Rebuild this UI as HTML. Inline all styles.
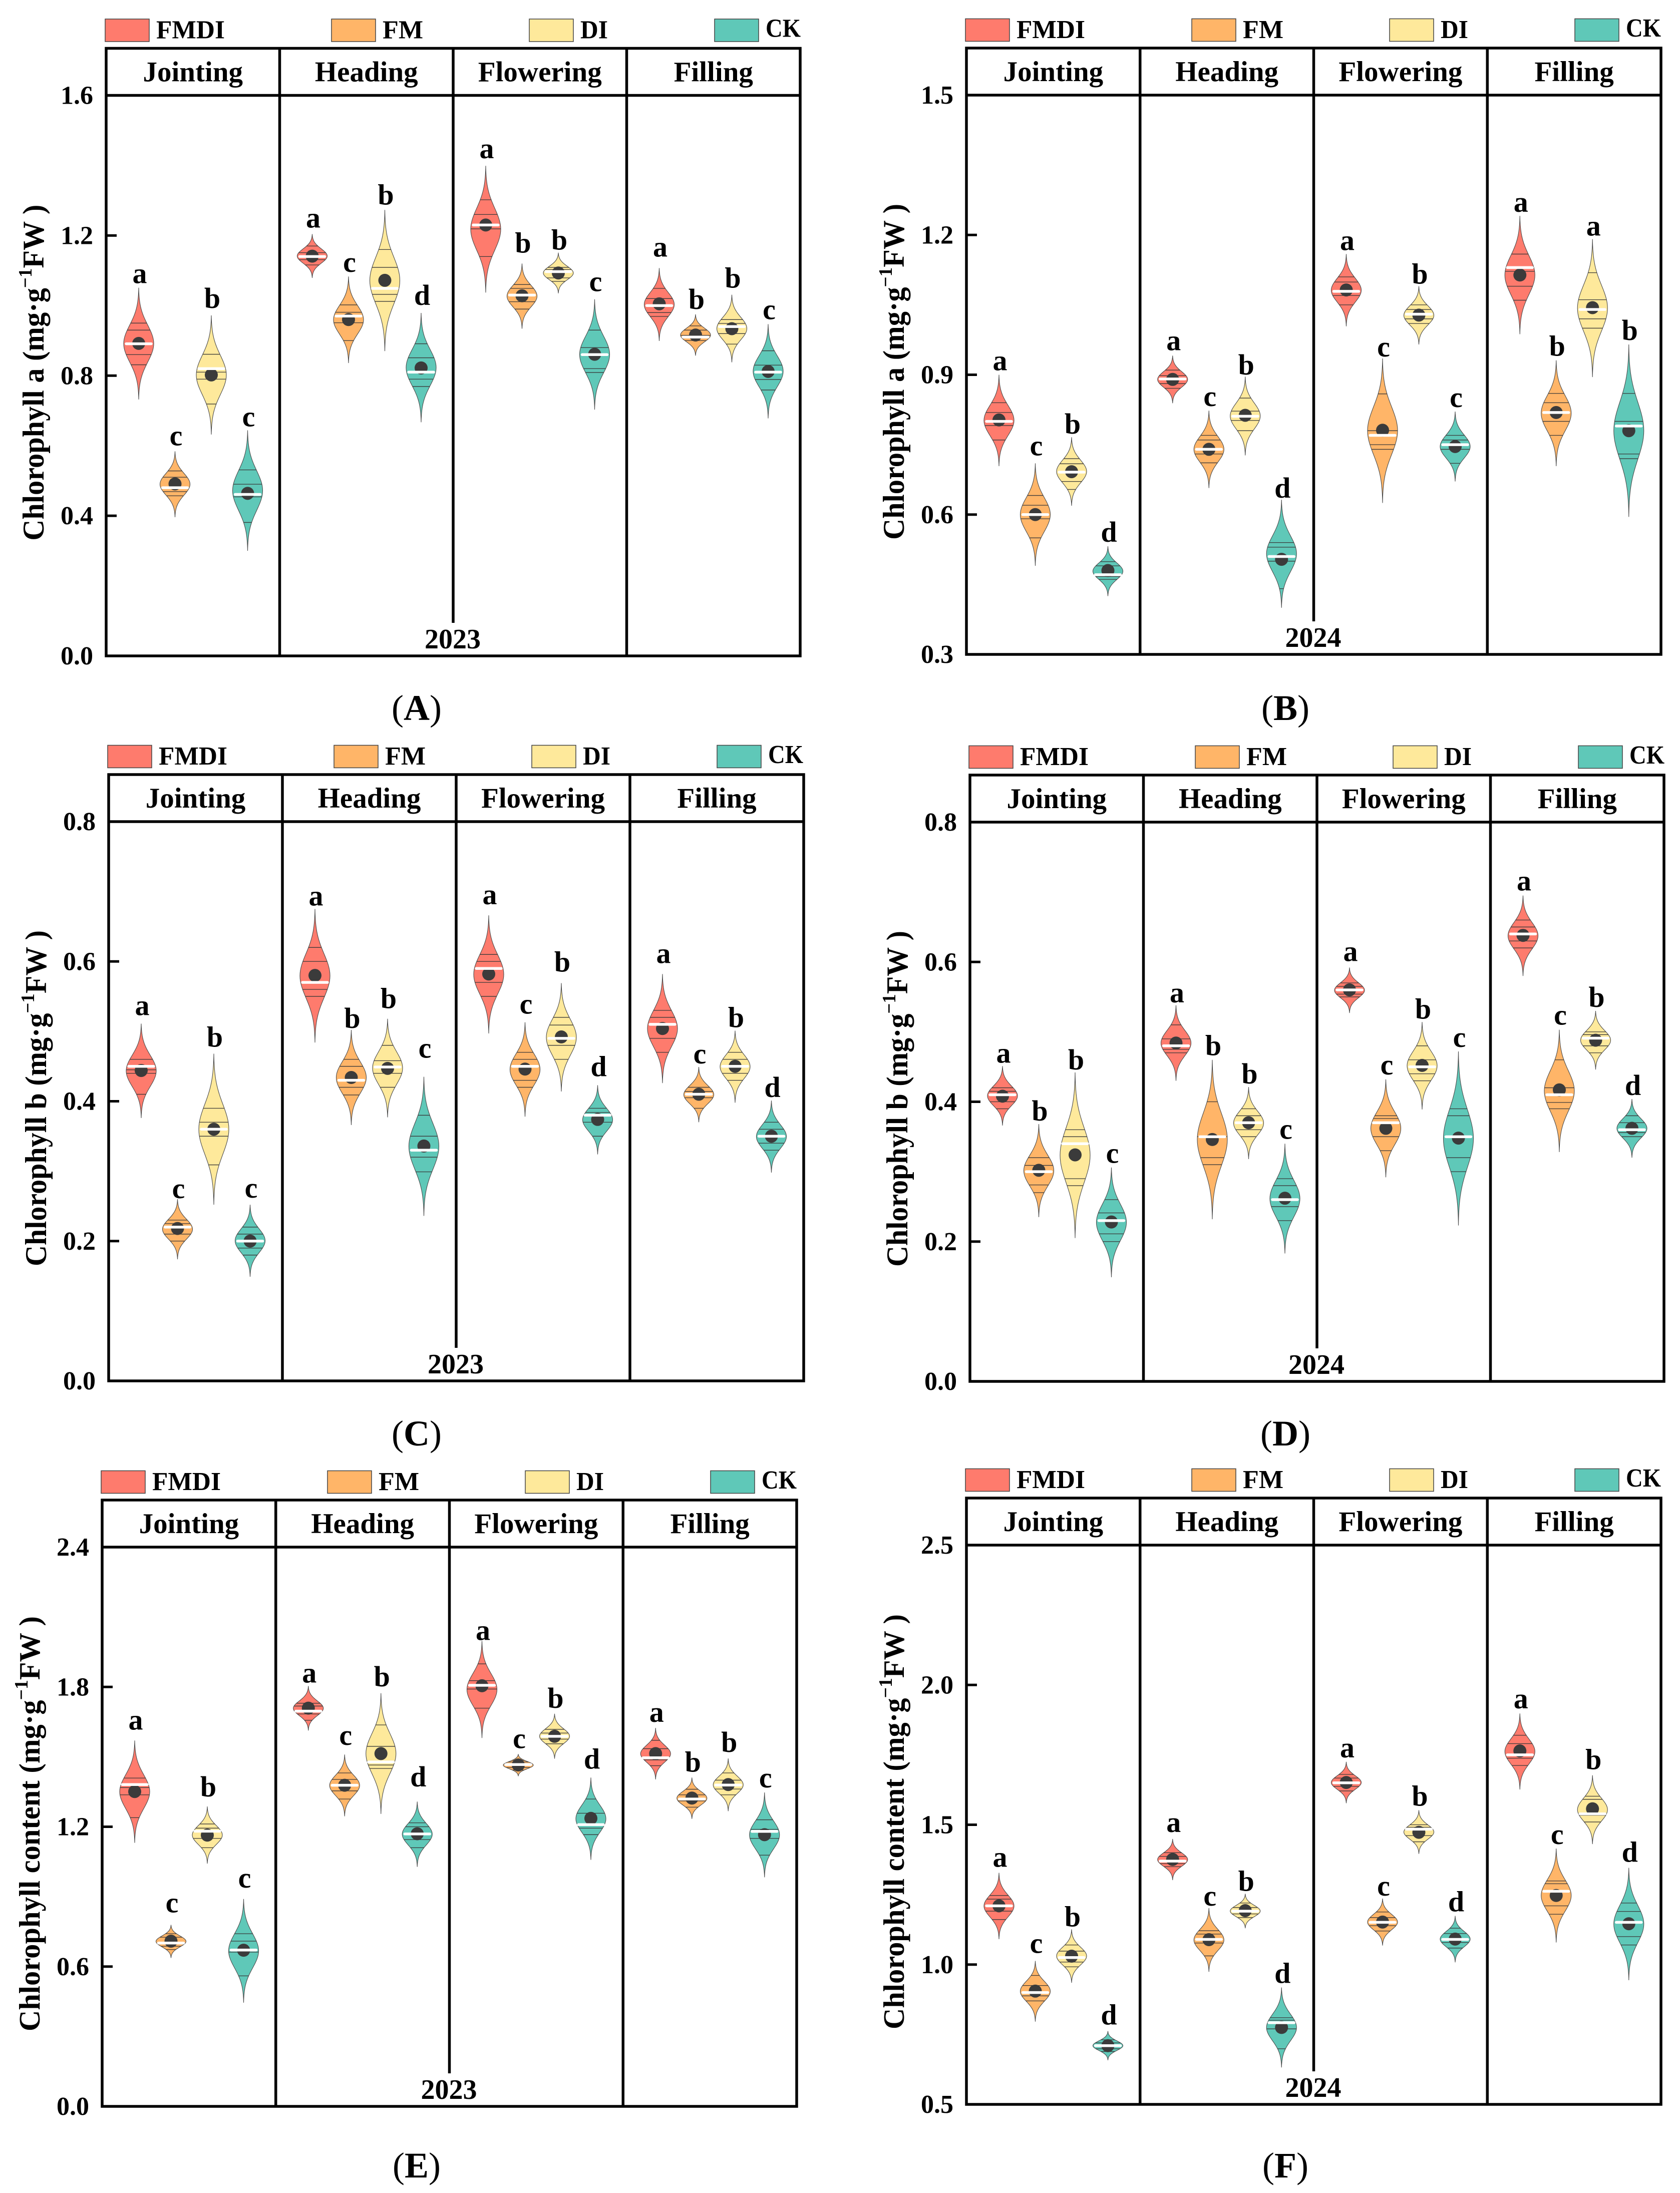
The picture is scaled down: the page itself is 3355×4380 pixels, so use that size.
<!DOCTYPE html>
<html lang="en">
<head>
<meta charset="utf-8">
<title>Chlorophyll violin charts</title>
<style>
html,body{margin:0;padding:0;background:#fff;}
svg{display:block;}
text{font-family:"Liberation Serif","Times New Roman",serif;font-weight:bold;fill:#000;}
</style>
</head>
<body>
<svg id="chart" xmlns="http://www.w3.org/2000/svg" width="3355" height="4380" viewBox="0 0 3355 4380"></svg>
<script>
// Shared categories
const stages = ["Jointing","Heading","Flowering","Filling"];
const treatments = ["FMDI","FM","DI","CK"];

// Panel A, 2023 chlorophyll a. Each group of 4 = FMDI, FM, DI, CK; groups = stages.
const aTop = [1.051,.584,.972,.644, 1.204,1.083,1.273,.979, 1.399,1.120,1.151,1.018, 1.107,.975,1.031,.947];
const aBottom = [.732,.396,.632,.300, 1.079,.836,.870,.667, 1.037,.934,1.035,.703, .899,.857,.838,.678];
const aMean = [.892,.491,.802,.464, 1.141,.960,1.072,.822, 1.230,1.028,1.093,.861, 1.005,.916,.934,.812];
const aMedian = [.891,.480,.820,.461, 1.140,.970,1.049,.810, 1.230,1.030,1.097,.860, 1.000,.910,.940,.810];
const aPoints = [[.950,.930,.860,.831],[.528,.510,.469,.457],[.861,.790,.719,.810],[.531,.490,.381,.454],
[1.170,1.151,1.131,1.116],[1.002,.981,.951,.900],[1.160,1.109,1.032,1.012],[.891,.851,.790,.769],
[1.302,1.260,1.219,1.140],[1.060,1.049,1.011,.990],[1.109,1.079,1.069,1.103],[.930,.880,.820,.809],
[1.049,1.020,.980,.969],[.942,.930,.900,.915],[.960,.920,.890,.949],[.871,.830,.789,.759]];
const aLetters = ["a","c","b","c","a","c","b","d","a","b","b","c","a","b","b","c"];
const aTicks = [0,.4,.8,1.2,1.6];

// Panel B, 2024 chlorophyll a
const bTop = [.900,.710,.766,.532, .941,.823,.896,.632, 1.159,.935,1.090,.821, 1.241,.931,1.191,.965];
const bBottom = [.704,.490,.619,.425, .839,.657,.727,.400, 1.004,.625,.965,.671, .987,.704,.895,.595];
const bMean = [.803,.600,.692,.480, .890,.740,.813,.504, 1.082,.781,1.028,.746, 1.114,.819,1.044,.780];
const bMedian = [.800,.600,.691,.471, .891,.740,.811,.510, 1.079,.770,1.030,.750, 1.130,.819,1.040,.790];
const bPoints = [[.840,.819,.791,.760],[.641,.620,.591,.550],[.720,.709,.671,.654],[.499,.490,.467,.461],
[.910,.898,.881,.871],[.770,.760,.730,.711],[.850,.822,.802,.780],[.540,.530,.500,.441],
[1.110,1.099,1.070,1.050],[.859,.780,.750,.740],[1.050,1.040,1.020,1.010],[.770,.760,.740,.710],
[1.159,1.090,1.060,1.122],[.860,.840,.800,.770],[1.119,1.020,1.000,1.061],[.860,.800,.730,.720]];
const bLetters = ["a","c","b","d","a","c","b","d","a","c","b","c","a","b","a","b"];
const bTicks = [.3,.6,.9,1.2,1.5];

// Panel C, 2023 chlorophyll b
const cTop = [.511,.260,.468,.252, .675,.502,.518,.435, .666,.513,.569,.423, .582,.449,.501,.401];
const cBottom = [.376,.174,.252,.149, .484,.366,.377,.236, .497,.378,.414,.324, .426,.370,.398,.298];
const cMean = [.444,.218,.360,.200, .580,.434,.447,.336, .582,.446,.492,.374, .504,.410,.450,.350];
const cMedian = [.450,.220,.360,.200, .570,.430,.449,.330, .590,.450,.490,.380, .510,.410,.450,.350];
const cPoints = [[.460,.440,.410,.445],[.230,.210,.200,.225],[.390,.350,.309,.370],[.220,.210,.190,.180],
[.620,.600,.560,.550],[.460,.450,.420,.409],[.480,.440,.420,.458],[.380,.350,.320,.299],
[.610,.570,.550,.600],[.470,.460,.430,.420],[.520,.509,.480,.460],[.390,.370,.350,.384],
[.530,.520,.490,.470],[.420,.414,.405,.390],[.470,.460,.440,.430],[.370,.360,.340,.330]];
const cLetters = ["a","c","b","c","a","b","b","c","a","c","b","d","a","c","b","d"];
const cTicks = [0,.2,.4,.6,.8];

// Panel D, 2024 chlorophyll b
const dTop = [.451,.368,.442,.306, .538,.460,.421,.340, .592,.432,.514,.472, .695,.503,.530,.404];
const dBottom = [.366,.235,.205,.149, .430,.232,.318,.183, .527,.292,.389,.223, .580,.328,.446,.320];
const dMean = [.408,.302,.324,.228, .484,.346,.370,.262, .560,.362,.452,.348, .638,.417,.488,.362];
const dMedian = [.410,.300,.340,.230, .480,.350,.370,.260, .560,.370,.450,.350, .640,.410,.491,.360];
const dPoints = [[.420,.400,.390,.415],[.320,.309,.281,.270],[.360,.350,.290,.280],[.260,.241,.211,.200],
[.510,.490,.470,.475],[.400,.350,.320,.310],[.390,.380,.360,.350],[.290,.280,.250,.230],
[.570,.565,.550,.554],[.380,.350,.330,.376],[.480,.460,.440,.430],[.390,.380,.320,.300],
[.660,.650,.630,.620],[.460,.420,.399,.390],[.500,.480,.470,.496],[.380,.370,.350,.356]];
const dLetters = ["a","b","b","c","a","b","b","c","a","c","b","c","a","c","b","d"];
const dTicks = [0,.2,.4,.6,.8];

// Panel E, 2023 chlorophyll content
const eTop = [1.570,.779,1.287,.890, 1.804,1.510,1.773,1.308, 1.997,1.512,1.685,1.411, 1.624,1.411,1.493,1.347];
const eBottom = [1.131,.637,1.042,.445, 1.613,1.245,1.255,1.028, 1.581,1.417,1.492,1.058, 1.403,1.234,1.267,.983];
const eMean = [1.351,.709,1.164,.670, 1.709,1.378,1.514,1.170, 1.805,1.465,1.588,1.236, 1.514,1.323,1.381,1.166];
const eMedian = [1.381,.701,1.181,.671, 1.696,1.378,1.478,1.169, 1.807,1.467,1.588,1.209, 1.496,1.319,1.379,1.180];
const ePoints = [[1.409,1.337,1.239,1.368],[.741,.726,.687,.673],[1.194,1.150,1.110,1.212],[.741,.709,.662,.560],
[1.730,1.684,1.657,1.718],[1.431,1.403,1.354,1.319],[1.637,1.545,1.465,1.450],[1.217,1.200,1.145,1.110],
[1.899,1.827,1.791,1.709],[1.485,1.478,1.454,1.443],[1.618,1.602,1.576,1.556],[1.319,1.258,1.194,1.166],
[1.571,1.535,1.487,1.462],[1.361,1.337,1.311,1.284],[1.431,1.400,1.362,1.337],[1.230,1.150,1.078,1.189]];
const eLetters = ["a","c","b","c","a","c","b","d","a","c","b","d","a","b","b","c"];
const eTicks = [0,.6,1.2,1.8,2.4];

// Panel F, 2024 chlorophyll content
const fTop = [1.328,1.013,1.126,.762, 1.449,1.202,1.253,.918, 1.725,1.236,1.552,1.174, 1.898,1.415,1.677,1.346];
const fBottom = [1.091,.796,.935,.658, 1.302,.974,1.130,.632, 1.577,1.068,1.396,1.008, 1.626,1.079,1.431,.944];
const fMean = [1.210,.905,1.030,.710, 1.376,1.089,1.193,.775, 1.651,1.152,1.473,1.091, 1.764,1.247,1.557,1.146];
const fMedian = [1.210,.900,1.025,.710, 1.370,1.090,1.191,.792, 1.650,1.151,1.484,1.090, 1.750,1.262,1.539,1.151];
const fPoints = [[1.247,1.234,1.191,1.161],[.961,.925,.888,.870],[1.070,1.048,1.009,.992],[.731,.720,.699,.689],
[1.400,1.387,1.361,1.350],[1.121,1.109,1.077,1.031],[1.220,1.204,1.181,1.168],[.810,.770,.699,.801],
[1.680,1.667,1.637,1.621],[1.188,1.168,1.139,1.120],[1.500,1.491,1.461,1.439],[1.130,1.111,1.079,1.059],
[1.820,1.790,1.738,1.712],[1.299,1.289,1.210,1.180],[1.602,1.591,1.534,1.510],[1.220,1.190,1.100,1.070]];
const fLetters = ["a","c","b","d","a","c","b","d","a","c","b","d","a","c","b","d"];
const fTicks = [.5,1.0,1.5,2.0,2.5];

// Series bundles by panel
const panels = [
 {id:"a",cap:"(A)",year:"2023",label:"Chlorophyll a",top:aTop,bottom:aBottom,mean:aMean,median:aMedian,points:aPoints,letters:aLetters,ticks:aTicks,frame:[212,1598,96.5,190.5,1310],capX:832,capDy:128,
  gaps:[9,12,15,8,13,9,11,16,15,22,6,16,23,11,14,10]},
 {id:"b",cap:"(B)",year:"2024",label:"Chlorophyll a",top:bTop,bottom:bBottom,mean:bMean,median:bMedian,points:bPoints,letters:bLetters,ticks:bTicks,frame:[1930,3317,96,190,1307],capX:2567,capDy:131,
  gaps:[9,16,7,9,11,9,4,4,8,4,5,9,8,9,7,9]},
 {id:"c",cap:"(C)",year:"2023",label:"Chlorophyll b",top:cTop,bottom:cBottom,mean:cMean,median:cMedian,points:cPoints,letters:cLetters,ticks:cTicks,frame:[217,1605,1547,1641,2758],capX:832,capDy:129,
  gaps:[17,2,14,14,7,4,21,38,22,17,23,18,22,7,7,7]},
 {id:"d",cap:"(D)",year:"2024",label:"Chlorophyll b",top:dTop,bottom:dBottom,mean:dMean,median:dMedian,points:dPoints,letters:dLetters,ticks:dTicks,frame:[1937,3323,1548,1642,2759],capX:2567,capDy:128,
  gaps:[7,7,6,9,6,9,7,10,13,10,7,9,10,10,8,8]},
 {id:"e",cap:"(E)",year:"2023",label:"Chlorophyll content",top:eTop,bottom:eBottom,mean:eMean,median:eMedian,points:ePoints,letters:eLetters,ticks:eTicks,frame:[204,1591,2996,3090,4207],capX:832,capDy:142,
  gaps:[22,25,20,23,7,19,14,30,2,12,12,18,12,12,13,10]},
 {id:"f",cap:"(F)",year:"2024",label:"Chlorophyll content",top:fTop,bottom:fBottom,mean:fMean,median:fMedian,points:fPoints,letters:fLetters,ticks:fTicks,frame:[1930,3317,2992,3086,4203],capX:2567,capDy:146,
  gaps:[12,16,6,13,14,5,6,9,9,6,9,9,10,9,12,12]}
];

const colors = ["#FE7B6D","#FFB568","#FEE99B","#5FC8B8"];
const slotX = [65,137.5,210,282.5];
const legendX = [-2,450,845,1215];
const legendWidths = [137,81,55,70];
const svgNS = "http://www.w3.org/2000/svg";
const root = document.getElementById("chart");

function el(tag, attrs, parent){
  const e = document.createElementNS(svgNS, tag);
  for(const k in attrs){ e.setAttribute(k, attrs[k]); }
  parent.appendChild(e);
  return e;
}
function txt(str, attrs, parent){
  const e = el("text", attrs, parent);
  e.textContent = str;
  return e;
}
const SIG = 0.33;
function shape(t){
  const base = Math.exp(-1/(2*SIG*SIG));
  return (Math.exp(-t*t/(2*SIG*SIG)) - base)/(1-base);
}
const HALF = 30;

panels.forEach(function(p){
  const L=p.frame[0],R=p.frame[1],T=p.frame[2],H=p.frame[3],B=p.frame[4];
  const vMin=p.ticks[0], vMax=p.ticks[p.ticks.length-1];
  const yScale=function(v){ return B-(v-vMin)/(vMax-vMin)*(B-H); };
  const colW=(R-L)/4;
  const g=el("g",{},root);
  
  

  // legend
  treatments.forEach(function(name,i){
    const lg=el("g",{},g);
    
    
    const x=L+legendX[i];
    const sw=el("rect",{x:x,y:T-58.5,width:88,height:45,fill:colors[i],stroke:"#444","stroke-width":1.5},lg);
    
    
    const lt=txt(name,{x:x+102,y:(i===3?T-23:T-20),"font-size":52,textLength:legendWidths[i],lengthAdjust:"spacingAndGlyphs"},lg);
    
    
  });

  // violins
  const plot=el("g",{},g);
  
  
  p.top.forEach(function(hi,idx){
    const col=Math.floor(idx/4), tr=idx%4;
    const cx=L+col*colW+slotX[tr];
    const lo=p.bottom[idx];
    const yHi=yScale(hi), yLo=yScale(lo);
    const yMid=(yHi+yLo)/2, half=(yLo-yHi)/2;
    const vg=el("g",{},plot);
    
    
    let left="", right="";
    const N=48;
    for(let i=0;i<=N;i++){
      const t=-1+2*i/N;
      const w=HALF*shape(t);
      right+=(i?"L":"M")+(cx+w).toFixed(2)+" "+(yMid+t*half).toFixed(2);
      left="L"+(cx-w).toFixed(2)+" "+(yMid+t*half).toFixed(2)+left;
    }
    const body=el("path",{d:right+left+"Z",fill:colors[tr],stroke:"#4a4a4a","stroke-width":1.1},vg);
    
    
    p.points[idx].forEach(function(v){
      const y=yScale(v);
      const w=HALF*shape(Math.max(-1,Math.min(1,(y-yMid)/half)));
      const ln=el("line",{x1:cx-w,x2:cx+w,y1:y,y2:y,stroke:"#3a3a3a","stroke-width":1.3},vg);
      
      
    });
    const dot=el("circle",{cx:cx,cy:yScale(p.mean[idx]),r:13,fill:"#3b3b3b"},vg);
    
    
    const yM=yScale(p.median[idx]);
    const med=el("line",{x1:cx-25,x2:cx+25,y1:yM,y2:yM,stroke:"#fff","stroke-width":5.5,"stroke-linecap":"round"},vg);
    
    
    const lt=txt(p.letters[idx],{x:cx+2,y:yHi-p.gaps[idx],"font-size":58,"text-anchor":"middle"},vg);
    
    
  });

  // frame
  const frame=el("g",{stroke:"#000","stroke-width":5.5,fill:"none"},g);
  
  
  el("rect",{x:L,y:T,width:R-L,height:B-T},frame);
  el("line",{x1:L,x2:R,y1:H,y2:H},frame);
  [1,2,3].forEach(function(k){
    const xx=L+k*colW;
    el("line",{x1:xx,x2:xx,y1:T,y2:(k===2?B-66:B)},frame);
  });

  // headers
  stages.forEach(function(s,k){
    const h=txt(s,{x:L+(k+.5)*colW,y:H-28,"font-size":57,"text-anchor":"middle"},g);
    
    
  });

  // y axis
  p.ticks.forEach(function(v,i){
    const y=yScale(v);
    if(i>0 && i<p.ticks.length-1){
      const tk=el("line",{x1:L,x2:L+21,y1:y,y2:y,stroke:"#000","stroke-width":5},g);
      
      
    }
    const tl=txt(v.toFixed(1),{x:L-26,y:y+17,"font-size":52,"text-anchor":"end"},g);
    
    
  });

  // y title
  const yx=L-125, yy=(T+B)/2+41;
  const long=p.label==="Chlorophyll content";
  const yt=el("text",{transform:"rotate(-90 "+yx+" "+yy+")",x:yx,y:yy,"font-size":long?59:60,"text-anchor":"middle",textLength:long?829:671,lengthAdjust:"spacingAndGlyphs"},g);
  
  
  yt.appendChild(document.createTextNode(p.label+" (mg\u00B7g"));
  const sup=el("tspan",{dy:-24,"font-size":38},yt);
  sup.textContent="\u22121";
  const rest=el("tspan",{dy:24},yt);
  rest.textContent="FW )";

  // year
  const yr=txt(p.year,{x:L+2*colW-1,y:B-15,"font-size":56,"text-anchor":"middle"},g);
  
  

  // caption
  const cp=el("text",{x:p.capX,y:B+p.capDy,"font-size":72,"text-anchor":"middle",style:"font-weight:normal"},g);
  
  
  cp.appendChild(document.createTextNode("("));
  const cb=el("tspan",{style:"font-weight:bold"},cp);
  cb.textContent=p.cap.charAt(1);
  cp.appendChild(document.createTextNode(")"));
});
</script>
</body>
</html>
